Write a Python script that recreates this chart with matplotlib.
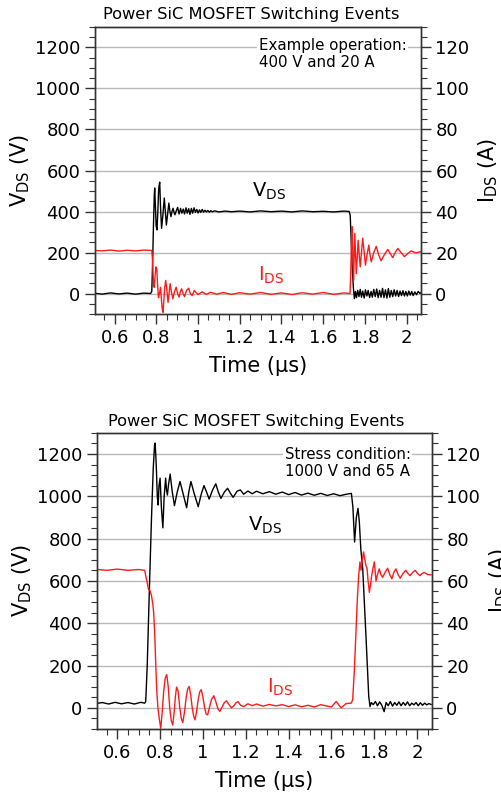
import matplotlib
matplotlib.use("Agg")
import matplotlib.pyplot as plt
from matplotlib.ticker import MultipleLocator

plt.rcParams['font.family'] = ['DejaVu Sans']
plt.rcParams['mathtext.default'] = 'regular'

# ---- data (time in us, V_DS in V, I_DS in A) ----
# top panel: example operation 400 V / 20 A
t_v1 = [0.50, 0.54, 0.58, 0.62, 0.66, 0.70, 0.74, 0.772, 0.778, 0.782, 0.786, 0.790, 0.792, 0.795,
        0.799, 0.803, 0.807, 0.811, 0.816, 0.820, 0.825, 0.831, 0.838, 0.843, 0.848, 0.854, 0.860,
        0.865, 0.870, 0.875, 0.880, 0.885, 0.889, 0.896, 0.902, 0.909, 0.916, 0.922, 0.929, 0.935,
        0.942, 0.948, 0.955, 0.961, 0.968, 0.974, 0.981, 0.987, 0.994, 1.000, 1.007, 1.013, 1.020,
        1.026, 1.033, 1.040, 1.047, 1.054, 1.061, 1.068, 1.08, 1.10, 1.13, 1.16, 1.20, 1.25, 1.30,
        1.35, 1.40, 1.45, 1.50, 1.55, 1.60, 1.65, 1.70, 1.725, 1.730, 1.735, 1.740, 1.745, 1.750,
        1.755, 1.760, 1.766, 1.772, 1.778, 1.784, 1.790, 1.797, 1.803, 1.810, 1.816, 1.823, 1.830,
        1.836, 1.843, 1.850, 1.857, 1.864, 1.871, 1.878, 1.885, 1.892, 1.899, 1.906, 1.913, 1.920,
        1.927, 1.934, 1.941, 1.948, 1.955, 1.962, 1.969, 1.976, 1.983, 1.990, 1.997, 2.004, 2.011,
        2.018, 2.025, 2.032, 2.040, 2.048, 2.056, 2.065, 2.07]
v1 = [2, -3, 3, -2, 2, -3, 2, 0, 10, 150, 330, 480, 515, 430,
      330, 310, 400, 510, 543, 420, 318, 380, 466, 400, 334, 390, 441,
      400, 375, 400, 416, 395, 384, 405, 420, 388, 415, 392, 412, 388,
      418, 392, 414, 386, 415, 392, 418, 396, 410, 393, 408, 396, 410,
      397, 406, 398, 405, 397, 404, 399, 403, 398, 402, 399, 402, 398, 403,
      399, 402, 398, 403, 399, 401, 398, 402, 400, 380, 250, 120, 30, -25,
      10, -20, 15, -15, 20, -18, 12, -22, 18, -12, 15, -20, 10,
      -18, 20, -15, 22, -20, 15, -18, 25, -20, 18, -22, 24, -18,
      15, -15, 18, -12, 15, -15, 12, -10, 14, -12, 10, -12, 12,
      -8, 10, -10, 8, -6, 10, 0, 5]

t_i1 = [0.50, 0.54, 0.58, 0.62, 0.66, 0.70, 0.74, 0.778, 0.781, 0.784, 0.787, 0.790, 0.794, 0.798,
        0.802, 0.806, 0.810, 0.815, 0.820, 0.825, 0.829, 0.832, 0.836, 0.840, 0.845, 0.850, 0.856,
        0.861, 0.866, 0.872, 0.879, 0.887, 0.895, 0.902, 0.909, 0.915, 0.921, 0.928, 0.935, 0.945,
        0.955, 0.963, 0.972, 0.982, 0.99, 1.00, 1.02, 1.04, 1.06, 1.09, 1.12, 1.16, 1.20, 1.25,
        1.30, 1.35, 1.40, 1.45, 1.50, 1.55, 1.60, 1.65, 1.70, 1.729, 1.733, 1.736, 1.739, 1.742,
        1.746, 1.749, 1.752, 1.756, 1.759, 1.764, 1.768, 1.773, 1.778, 1.784, 1.790, 1.797, 1.803,
        1.811, 1.819, 1.825, 1.831, 1.843, 1.855, 1.866, 1.878, 1.894, 1.910, 1.922, 1.934, 1.946,
        1.958, 1.974, 1.990, 2.006, 2.022, 2.045, 2.07]
i1 = [21, 20.8, 21.2, 20.7, 21.1, 20.8, 21.2, 21, 17, 10, 4, 3, 9, 13,
      12, 4, -2, 0, 3, -4, -8, -9.2, -3, 3, 6.4, 2, -4.3,
      0, 4.8, 1, -2.6, 1, 3.1, 0, -1.8, 1, 2.3, 0, -1.5, 1.5,
      2.6, 0, -1, 1.5, 0.5, -0.5, 0.8, -0.4, 0.6, -0.3, 0.5, -0.4, 0.4, -0.3,
      0.5, -0.4, 0.3, -0.5, 0.4, -0.3, 0.5, -0.4, 0.3, 0, 12, 25, 32.6, 22,
      6.4, 18, 29.4, 18, 9.7, 18, 26, 19, 13, 20, 27, 20, 13.8,
      19, 23.6, 19, 15.4, 20, 23, 19, 16, 19, 21.5, 19.5, 17.5, 20,
      22, 20, 18, 19.5, 20.8, 19.8, 20.5]

# bottom panel: stress condition 1000 V / 65 A
t_v2 = [0.50, 0.53, 0.56, 0.59, 0.62, 0.65, 0.68, 0.71, 0.728, 0.733, 0.740, 0.750, 0.760, 0.768,
        0.774, 0.777, 0.782, 0.787, 0.791, 0.795, 0.800, 0.806, 0.813, 0.819, 0.826, 0.830, 0.834,
        0.840, 0.847, 0.857, 0.867, 0.880, 0.893, 0.908, 0.924, 0.934, 0.944, 0.960, 0.978, 0.992,
        1.005, 1.017, 1.029, 1.045, 1.060, 1.072, 1.084, 1.100, 1.115, 1.128, 1.141, 1.160, 1.175,
        1.19, 1.21, 1.23, 1.25, 1.28, 1.31, 1.34, 1.37, 1.40, 1.43, 1.46, 1.49, 1.52, 1.55, 1.58,
        1.61, 1.64, 1.67, 1.693, 1.700, 1.708, 1.716, 1.724, 1.730, 1.737, 1.746, 1.761, 1.774,
        1.780, 1.786, 1.795, 1.805, 1.815, 1.825, 1.835, 1.846, 1.855, 1.865, 1.875, 1.885, 1.895,
        1.905, 1.915, 1.925, 1.935, 1.945, 1.955, 1.965, 1.975, 1.985, 1.995, 2.005, 2.015, 2.025,
        2.035, 2.045, 2.055, 2.065]
v2 = [20, 25, 18, 26, 19, 25, 18, 26, 22, 30, 200, 560, 900, 1130,
      1240, 1252, 1150, 1000, 959, 1050, 1086, 950, 851, 1000, 1086, 1030, 1006,
      1060, 1105, 1020, 956, 1020, 1070, 1010, 946, 1020, 1070, 1010, 951, 1010,
      1051, 1020, 987, 1030, 1059, 1020, 990, 1020, 1038, 1015, 995, 1025, 1030,
      1010, 1025, 1012, 1024, 1012, 1022, 1010, 1020, 1008, 1018, 1006, 1015, 1005, 1014, 1004,
      1012, 1003, 1010, 1014, 950, 784, 900, 943, 880, 752, 657, 340, 54,
      6, 25, 15, 30, 10, 28, 12, -18, 25, 10, 30, 8, 25,
      12, 28, 10, 25, 12, 28, 10, 22, 14, 25, 10, 24, 12,
      22, 14, 20, 16]

t_i2 = [0.50, 0.55, 0.60, 0.65, 0.70, 0.728, 0.733, 0.740, 0.746, 0.753, 0.760, 0.766, 0.770, 0.775,
        0.780, 0.785, 0.790, 0.796, 0.803, 0.810, 0.817, 0.824, 0.831, 0.838, 0.845, 0.852, 0.859,
        0.866, 0.871, 0.877, 0.884, 0.892, 0.899, 0.906, 0.914, 0.922, 0.929, 0.936, 0.943, 0.950,
        0.957, 0.963, 0.970, 0.978, 0.985, 0.992, 1.000, 1.008, 1.015, 1.022, 1.030, 1.040, 1.051,
        1.060, 1.070, 1.079, 1.090, 1.100, 1.110, 1.122, 1.133, 1.145, 1.155, 1.164, 1.176, 1.19,
        1.21, 1.23, 1.25, 1.28, 1.31, 1.34, 1.37, 1.40, 1.43, 1.46, 1.49, 1.52, 1.55, 1.58, 1.60,
        1.622, 1.645, 1.668, 1.692, 1.699, 1.707, 1.715, 1.721, 1.727, 1.733, 1.738, 1.744, 1.750,
        1.756, 1.761, 1.766, 1.771, 1.777, 1.782, 1.787, 1.794, 1.800, 1.808, 1.815, 1.823, 1.831,
        1.839, 1.850, 1.862, 1.872, 1.882, 1.891, 1.901, 1.911, 1.921, 1.934, 1.947, 1.957, 1.967,
        1.979, 1.991, 2.002, 2.013, 2.023, 2.033, 2.050, 2.065]
i2 = [65.5, 65, 65.6, 65, 65.4, 65, 62.5, 59, 56, 55.5, 53, 49, 45, 35,
      20, 7, 0, -5, -9.7, -2, 8, 14, 15.7, 10, 0, -6, -8.1,
      -2, 5, 9.8, 8, 0, -5, -7, -2, 5, 9, 10.1, 6, 0,
      -4, -5.7, -2, 4, 7.5, 8.6, 5, 0, -3, -3.3, 0, 4, 5.7,
      3, -0.5, -1.7, 0.5, 2.5, 3.3, 1.5, 0, 1, 2.5, 2.9, 1.2, 0.6,
      1.9, 1.0, 1.8, 0.8, 1.6, 0.9, 1.5, 0.6, 1.4, 0.5, 1.2, 0.4, 1.5, 0.8, 0.4,
      3, 0, 2, 2.2, 3.8, 18, 37, 52, 62.5, 69, 65, 70, 73.7,
      70, 67.3, 66, 60, 54.6, 58, 62, 66, 69, 60, 63, 65.7, 63,
      61.7, 64, 66, 63, 61, 64, 65.7, 63, 61.3, 63.5, 65, 63.5, 62.5,
      64, 65, 63.5, 62.5, 63.5, 64, 63, 62.9]

titles = ["Power SiC MOSFET Switching Events", "Power SiC MOSFET Switching Events"]
notes = ["Example operation:\n400 V and 20 A", "Stress condition:\n1000 V and 65 A"]
v_ticks = [0, 200, 400, 600, 800, 1000, 1200]
i_ticks = [0, 20, 40, 60, 80, 100, 120]
x_ticks = [0.6, 0.8, 1.0, 1.2, 1.4, 1.6, 1.8, 2.0]
x_labels = ["0.6", "0.8", "1", "1.2", "1.4", "1.6", "1.8", "2"]

fig = plt.figure(figsize=(5.02, 7.96), dpi=100)

panels = [
    dict(rect=[0.189, 0.6055, 0.649, 0.3606], t_v=t_v1, v=v1, t_i=t_i1, i=i1,
         note_xy=(0.503, 0.962), vlab=(1.26, 497), ilab=(1.286, 88),
         title_xy=(0.5, 1 - 14 / 796)),
    dict(rect=[0.193, 0.0842, 0.667, 0.372], t_v=t_v2, v=v2, t_i=t_i2, i=i2,
         note_xy=(0.561, 0.953), vlab=(1.21, 862), ilab=(1.30, 95),
         title_xy=(0.51, 1 - 421 / 796)),
]

for k, p in enumerate(panels):
    ax = fig.add_axes(p["rect"])
    ax2 = ax.twinx()

    ax.plot(p["t_v"], p["v"], color='black', lw=1.0)
    ax2.plot(p["t_i"], p["i"], color='#ff1a1a', lw=1.0)

    ax.set_xlim(0.505, 2.068)
    ax.set_ylim(-100, 1300)
    ax2.set_ylim(-10, 130)

    ax.set_yticks(v_ticks)
    ax2.set_yticks(i_ticks)
    ax.set_xticks(x_ticks)
    ax.set_xticklabels(x_labels)
    ax.yaxis.set_minor_locator(MultipleLocator(50))
    ax2.yaxis.set_minor_locator(MultipleLocator(5))
    ax.xaxis.set_minor_locator(MultipleLocator(0.05))

    for a in (ax, ax2):
        a.tick_params(which='major', direction='out', length=7, width=1, labelsize=13, color='#333333')
        a.tick_params(which='minor', direction='out', length=4, width=0.8, color='#333333')
        for s in a.spines.values():
            s.set_color('#333333')
            s.set_linewidth(1)

    ax.set_axisbelow(True)
    ax.yaxis.grid(True, color='#b8b8b8', lw=1)

    ax.set_xlabel("Time (µs)", fontsize=15, labelpad=7)
    ax.set_ylabel("V$_{DS}$ (V)", fontsize=15, labelpad=2)
    ax2.set_ylabel("I$_{DS}$ (A)", fontsize=15, labelpad=5)

    ax.text(p["note_xy"][0], p["note_xy"][1], notes[k], transform=ax.transAxes,
            ha='left', va='top', fontsize=10.8, linespacing=1.15,
            bbox=dict(facecolor='white', edgecolor='none', pad=1))
    ax.text(p["vlab"][0], p["vlab"][1], "V$_{DS}$", fontsize=14, color='black',
            ha='left', va='center', bbox=dict(facecolor='white', edgecolor='none', pad=1))
    ax.text(p["ilab"][0], p["ilab"][1], "I$_{DS}$", fontsize=14, color='#ff1a1a',
            ha='left', va='center', bbox=dict(facecolor='white', edgecolor='none', pad=1))

    fig.text(p["title_xy"][0], p["title_xy"][1], titles[k], ha='center', va='center', fontsize=11.7)

fig.savefig("out.png", dpi=100)
